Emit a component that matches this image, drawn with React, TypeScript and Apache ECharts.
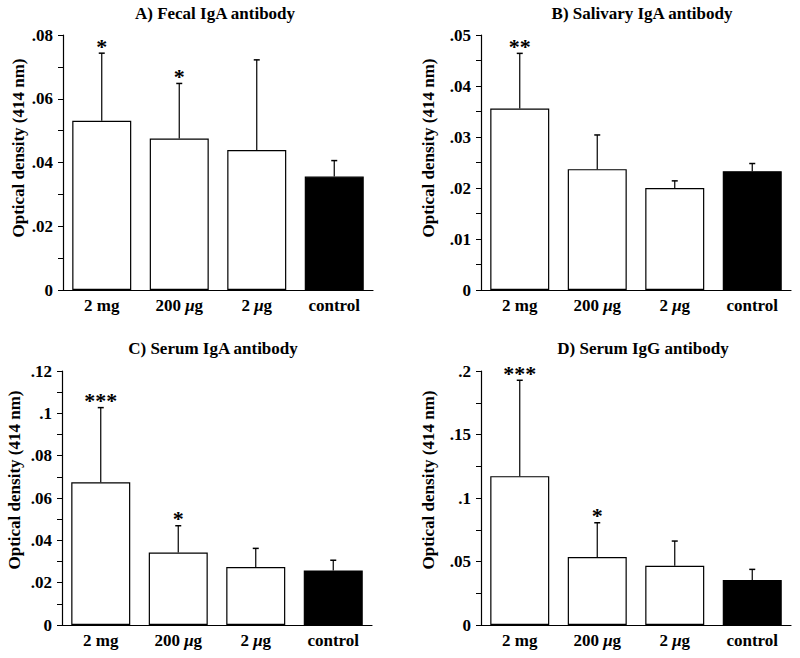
import React, { useEffect, useRef } from "react";
import * as echarts from "echarts";

const categories = ["2 mg", "200 μg", "2 μg", "control"];

const titles = [
  "A) Fecal IgA antibody",
  "B) Salivary IgA antibody",
  "C) Serum IgA antibody",
  "D) Serum IgG antibody",
];

const meansA = [0.0531, 0.0475, 0.0439, 0.0356];
const errTopA = [0.0743, 0.0648, 0.0722, 0.0406];
const starsA = ["*", "*", "", ""];
const ticksA = [0, 0.02, 0.04, 0.06, 0.08];

const meansB = [0.0356, 0.0237, 0.02, 0.0233];
const errTopB = [0.0464, 0.0304, 0.0214, 0.0248];
const starsB = ["**", "", "", ""];
const ticksB = [0, 0.01, 0.02, 0.03, 0.04, 0.05];

const meansC = [0.0674, 0.0342, 0.0274, 0.0258];
const errTopC = [0.1027, 0.0469, 0.0362, 0.0306];
const starsC = ["***", "*", "", ""];
const ticksC = [0, 0.02, 0.04, 0.06, 0.08, 0.1, 0.12];

const meansD = [0.1172, 0.0535, 0.0467, 0.0354];
const errTopD = [0.1927, 0.0805, 0.0661, 0.0438];
const starsD = ["***", "*", "", ""];
const ticksD = [0, 0.05, 0.1, 0.15, 0.2];

const yName = "Optical density (414 nm)";
const FONT = "'Liberation Serif', 'Times New Roman', serif";

const panels = [
  { means: meansA, errs: errTopA, stars: starsA, ticks: ticksA },
  { means: meansB, errs: errTopB, stars: starsB, ticks: ticksB },
  { means: meansC, errs: errTopC, stars: starsC, ticks: ticksC },
  { means: meansD, errs: errTopD, stars: starsD, ticks: ticksD },
];

// layout (positions, not data)
const grids = [
  { left: 63, top: 35, width: 310, height: 255 },
  { left: 481, top: 35, width: 310, height: 255 },
  { left: 62, top: 371, width: 310, height: 254 },
  { left: 481, top: 371, width: 310, height: 254 },
];
const titlePos = [
  { x: 215, y: 13 },
  { x: 642, y: 13 },
  { x: 213, y: 348 },
  { x: 643, y: 348 },
];
const yNamePos = [
  { x: 18, y: 148 },
  { x: 428, y: 148 },
  { x: 14, y: 480 },
  { x: 428, y: 480 },
];

function fmt(v: number): string {
  if (v === 0) return "0";
  return parseFloat(v.toFixed(4)).toString().replace(/^0\./, ".");
}

export default function App() {
  const ref = useRef<HTMLDivElement>(null);
  useEffect(() => {
    if (!ref.current) return;
    const chart = echarts.init(ref.current, null, { renderer: "svg" });
    const textBase = { fontFamily: FONT, fontWeight: "bold" as const, color: "#000" };

    const xAxis: any[] = [];
    const yAxis: any[] = [];
    const series: any[] = [];
    const graphic: any[] = [];

    panels.forEach((p, i) => {
      const t = p.ticks;
      const interval = t[1] - t[0];
      xAxis.push({
        type: "category",
        gridIndex: i,
        data: categories,
        axisLine: { lineStyle: { color: "#000", width: 1.2 } },
        axisTick: { show: false },
        axisLabel: {
          ...textBase,
          interval: 0,
          fontSize: 17,
          margin: 7,
          formatter: (v: string) => v.replace("μ", "{i|μ}"),
          rich: { i: { ...textBase, fontSize: 17, fontStyle: "italic" } },
        },
      });
      yAxis.push({
        type: "value",
        gridIndex: i,
        min: t[0],
        max: t[t.length - 1],
        interval,
        splitLine: { show: false },
        axisLine: { show: true, lineStyle: { color: "#000", width: 1.2 } },
        axisTick: { show: true, length: 5, lineStyle: { color: "#000" } },
        minorTick: { show: true, splitNumber: 2, length: 5, lineStyle: { color: "#000" } },
        minorSplitLine: { show: false },
        axisLabel: { ...textBase, fontSize: 17, margin: 10, formatter: fmt },
      });
      series.push({
        type: "bar",
        xAxisIndex: i,
        yAxisIndex: i,
        barWidth: 59,
        data: p.means.map((v, k) => ({
          value: v,
          itemStyle: {
            color: k === categories.length - 1 ? "#000" : "#fff",
            borderColor: "#000",
            borderWidth: 1.2,
          },
        })),
      });
      series.push({
        type: "custom",
        xAxisIndex: i,
        yAxisIndex: i,
        z: 5,
        encode: { x: 0, y: [1, 2] },
        data: p.means.map((v, k) => [k, v, p.errs[k], p.stars[k]]),
        renderItem: (params: any, api: any) => {
          const k = api.value(0);
          const base = api.coord([k, api.value(1)]);
          const top = api.coord([k, api.value(2)]);
          const star = p.stars[k];
          const x = base[0];
          const children: any[] = [
            {
              type: "line",
              shape: { x1: x, y1: base[1], x2: x, y2: top[1] },
              style: { stroke: "#000", lineWidth: 1.2 },
            },
            {
              type: "line",
              shape: { x1: x - 3, y1: top[1], x2: x + 3, y2: top[1] },
              style: { stroke: "#000", lineWidth: 1.5 },
            },
          ];
          if (star) {
            children.push({
              type: "text",
              x,
              y: top[1] + 4,
              style: {
                text: star,
                font: `bold 22px ${FONT}`,
                fill: "#000",
                align: "center",
                verticalAlign: "bottom",
              },
            });
          }
          return { type: "group", children };
        },
      });
      graphic.push({
        type: "text",
        x: titlePos[i].x,
        y: titlePos[i].y,
        style: {
          text: titles[i],
          font: `bold 17px ${FONT}`,
          fill: "#000",
          align: "center",
          verticalAlign: "middle",
        },
      });
      graphic.push({
        type: "text",
        x: yNamePos[i].x,
        y: yNamePos[i].y,
        rotation: Math.PI / 2,
        style: {
          text: yName,
          font: `bold 17px ${FONT}`,
          fill: "#000",
          align: "center",
          verticalAlign: "middle",
        },
      });
    });

    chart.setOption({
      animation: false,
      backgroundColor: "#fff",
      grid: grids,
      xAxis,
      yAxis,
      series,
      graphic,
    });
    return () => chart.dispose();
  }, []);
  return (
    <div
      ref={ref}
      style={{ position: "fixed", left: 0, top: 0, width: 800, height: 658 }}
    />
  );
}
